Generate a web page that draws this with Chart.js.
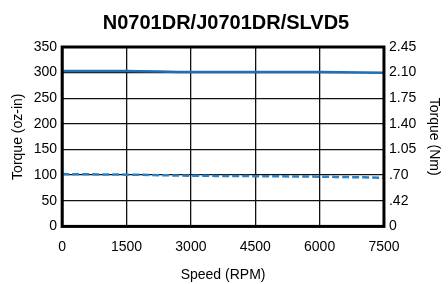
<!DOCTYPE html>
<html>
<head>
<meta charset="utf-8">
<script src="https://cdn.jsdelivr.net/npm/chart.js@4/dist/chart.umd.min.js"></script>
<style>
  html, body { margin: 0; padding: 0; background: #fff; }
  #wrap { width: 448px; height: 284px; position: relative; }
</style>
</head>
<body>
<div id="wrap"><canvas id="torqueChart" width="448" height="284"></canvas></div>
<script>
const speeds = [0, 1500, 3000, 4500, 6000, 7500];
const peakTorque = [303, 303, 301, 301, 301, 300];
const contTorque = [102, 101, 99, 98, 97, 95];
const leftTicks = [0, 50, 100, 150, 200, 250, 300, 350];
const rightTickLabels = ['0', '.42', '.70', '1.05', '1.40', '1.75', '2.10', '2.45'];

document.addEventListener('DOMContentLoaded', function () {
    const ctx = document.getElementById('torqueChart').getContext('2d');

    // thick frame around the plot area
    const frame = {
        id: 'frame',
        afterDraw(chart) {
            const a = chart.chartArea;
            const c = chart.ctx;
            c.save();
            c.strokeStyle = '#000';
            c.lineWidth = 3;
            c.strokeRect(a.left, a.top, a.right - a.left, a.bottom - a.top);
            c.restore();
        }
    };

    const tickFont = { family: 'Liberation Sans', size: 14 };

    new Chart(ctx, {
        type: 'line',
        data: {
            datasets: [{
                label: 'Peak',
                data: speeds.map((s, i) => ({ x: s, y: peakTorque[i] })),
                borderColor: '#1f6fb4',
                borderWidth: 2.5,
                pointRadius: 0,
                cubicInterpolationMode: 'monotone'
            }, {
                label: 'Continuous',
                data: speeds.map((s, i) => ({ x: s, y: contTorque[i] })),
                borderColor: '#2a82c8',
                borderWidth: 2.5,
                borderDash: [7, 3],
                pointRadius: 0,
                cubicInterpolationMode: 'monotone'
            }]
        },
        options: {
            responsive: false,
            animation: false,
            layout: { padding: { left: 6, right: 2, top: 0, bottom: 0 } },
            plugins: {
                legend: { display: false },
                tooltip: { enabled: false },
                title: {
                    display: true,
                    text: 'N0701DR/J0701DR/SLVD5',
                    color: '#000',
                    font: { family: 'Liberation Sans', size: 20, weight: 'bold' },
                    padding: { top: 11, bottom: 12 }
                }
            },
            scales: {
                x: {
                    type: 'linear',
                    min: 0,
                    max: 7500,
                    ticks: {
                        stepSize: 1500,
                        color: '#000',
                        font: tickFont,
                        maxRotation: 0,
                        padding: 12,
                        callback: v => String(v)
                    },
                    grid: { color: '#111', lineWidth: 1.3, drawTicks: false },
                    border: { display: false },
                    title: {
                        display: true,
                        text: 'Speed (RPM)',
                        color: '#000',
                        font: tickFont,
                        padding: { top: 0, bottom: 0 }
                    }
                },
                y: {
                    min: 0,
                    max: 350,
                    afterBuildTicks(axis) { axis.ticks = leftTicks.map(v => ({ value: v })); },
                    ticks: {
                        color: '#000',
                        font: tickFont,
                        padding: 5
                    },
                    grid: { color: '#111', lineWidth: 1.3, drawTicks: false },
                    border: { display: false },
                    title: {
                        display: true,
                        text: 'Torque (oz-in)',
                        color: '#000',
                        font: tickFont,
                        padding: { bottom: 2 }
                    }
                },
                y2: {
                    position: 'right',
                    min: 0,
                    max: 350,
                    afterBuildTicks(axis) { axis.ticks = leftTicks.map(v => ({ value: v })); },
                    ticks: {
                        color: '#000',
                        font: tickFont,
                        padding: 5,
                        callback: (v, i) => rightTickLabels[i]
                    },
                    grid: { display: false, drawTicks: false },
                    border: { display: false },
                    title: {
                        display: true,
                        text: 'Torque (Nm)',
                        color: '#000',
                        font: tickFont,
                        padding: { top: 4 }
                    }
                }
            }
        },
        plugins: [frame]
    });
});
</script>
</body>
</html>
